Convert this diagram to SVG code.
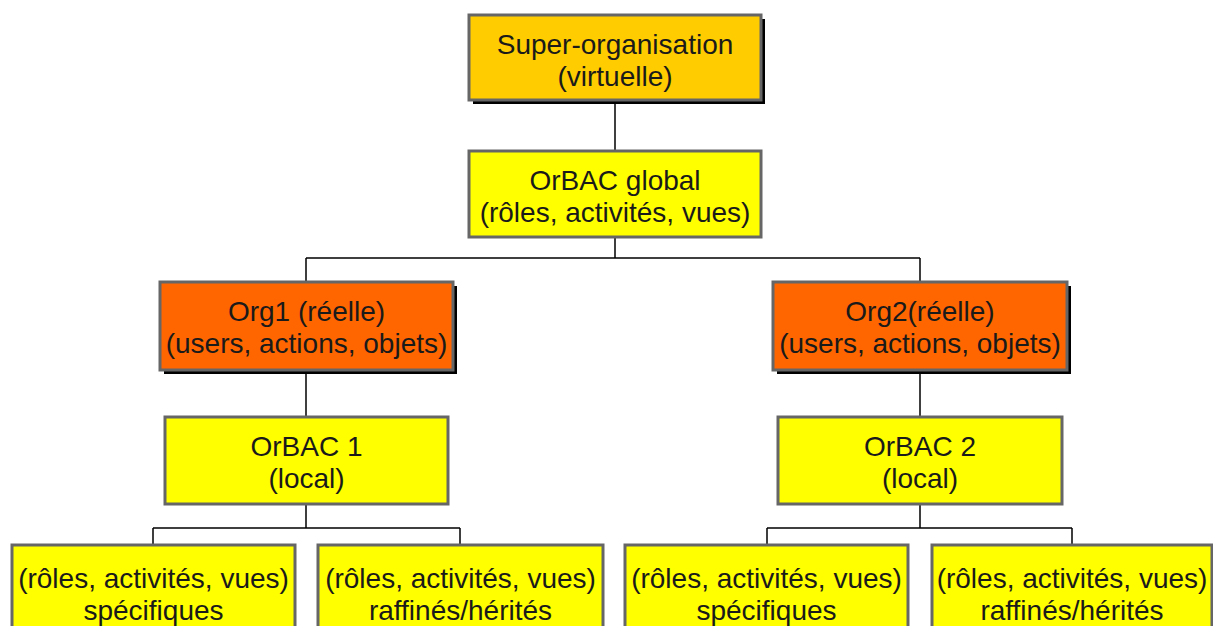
<svg xmlns="http://www.w3.org/2000/svg" width="1213" height="626" viewBox="0 0 1213 626">
<style>
.box{stroke:#666666;stroke-width:3}
.gold{fill:#FFCC00}
.yel{fill:#FFFF00}
.org{fill:#FF6600}
.sh{fill:#000000}
text{font-family:"Liberation Sans",Arial,sans-serif;font-size:28px;fill:#1a1a1a;text-anchor:middle}
.cn{stroke:#000000;stroke-width:1.5;fill:none}
</style>
<rect width="1213" height="626" fill="#ffffff"/>
<g id="connectors">
<path class="cn" d="M615 100V151"/>
<path class="cn" d="M615 237V258M306 258H920M306 258V282M920 258V282"/>
<path class="cn" d="M306 370V417"/>
<path class="cn" d="M920 370V417"/>
<path class="cn" d="M306 504V528M153 528H460M153 528V545M460 528V545"/>
<path class="cn" d="M920 504V528M767 528H1072M767 528V545M1072 528V545"/>
</g>
<g id="super">
<rect class="sh" x="473" y="19" width="292" height="85"/>
<rect class="box gold" x="469" y="15" width="292" height="85"/>
<text x="615" y="54">Super-organisation</text>
<text x="615" y="86">(virtuelle)</text>
</g>
<g id="global">
<rect class="box yel" x="469" y="151" width="292" height="86"/>
<text x="615" y="190">OrBAC global</text>
<text x="615" y="222">(rôles, activités, vues)</text>
</g>
<g id="org1">
<rect class="sh" x="164" y="286" width="293" height="88"/>
<rect class="box org" x="160" y="282" width="293" height="88"/>
<text x="306.5" y="321">Org1 (réelle)</text>
<text x="306.5" y="353">(users, actions, objets)</text>
</g>
<g id="org2">
<rect class="sh" x="777" y="286" width="294" height="88"/>
<rect class="box org" x="773" y="282" width="294" height="88"/>
<text x="920" y="321">Org2(réelle)</text>
<text x="920" y="353">(users, actions, objets)</text>
</g>
<g id="orbac1">
<rect class="box yel" x="165" y="417" width="283" height="87"/>
<text x="306.5" y="456">OrBAC 1</text>
<text x="306.5" y="488">(local)</text>
</g>
<g id="orbac2">
<rect class="box yel" x="778" y="417" width="284" height="87"/>
<text x="920" y="456">OrBAC 2</text>
<text x="920" y="488">(local)</text>
</g>
<g id="spec1">
<rect class="box yel" x="12" y="545" width="283" height="95"/>
<text x="153.5" y="588">(rôles, activités, vues)</text>
<text x="153.5" y="620">spécifiques</text>
</g>
<g id="raff1">
<rect class="box yel" x="318" y="545" width="285" height="95"/>
<text x="460.5" y="588">(rôles, activités, vues)</text>
<text x="460.5" y="620">raffinés/hérités</text>
</g>
<g id="spec2">
<rect class="box yel" x="625" y="545" width="283" height="95"/>
<text x="766.5" y="588">(rôles, activités, vues)</text>
<text x="766.5" y="620">spécifiques</text>
</g>
<g id="raff2">
<rect class="box yel" x="932" y="545" width="280" height="95"/>
<text x="1072" y="588">(rôles, activités, vues)</text>
<text x="1072" y="620">raffinés/hérités</text>
</g>
</svg>
